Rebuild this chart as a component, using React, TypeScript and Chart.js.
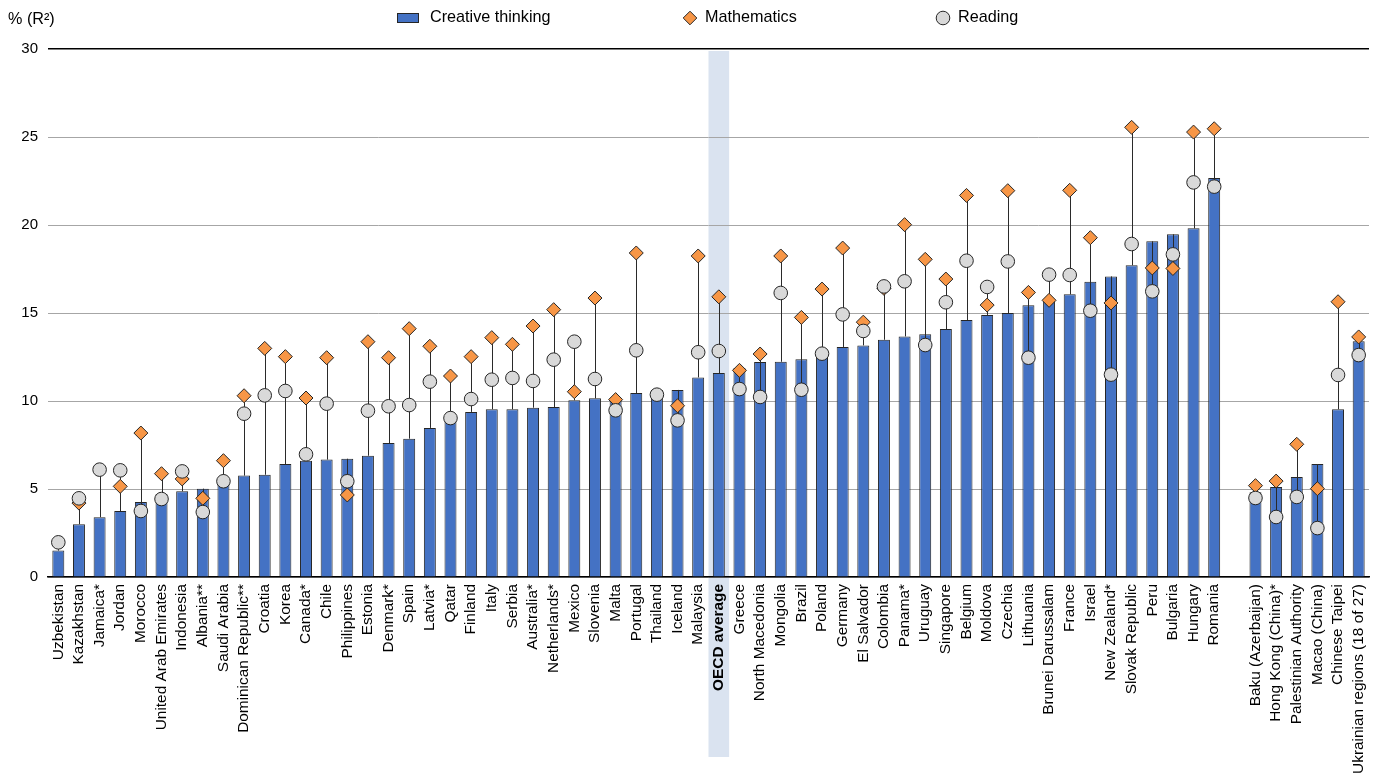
import React, { useEffect, useRef } from "react";
import { Chart, registerables } from "chart.js";

Chart.register(...registerables);

const categories: string[] = [
  "Uzbekistan", "Kazakhstan", "Jamaica*", "Jordan", "Morocco", "United Arab Emirates", "Indonesia", "Albania**",
  "Saudi Arabia", "Dominican Republic**", "Croatia", "Korea", "Canada*", "Chile", "Philippines", "Estonia",
  "Denmark*", "Spain", "Latvia*", "Qatar", "Finland", "Italy", "Serbia", "Australia*", "Netherlands*", "Mexico",
  "Slovenia", "Malta", "Portugal", "Thailand", "Iceland", "Malaysia", "OECD average", "Greece", "North Macedonia",
  "Mongolia", "Brazil", "Poland", "Germany", "El Salvador", "Colombia", "Panama*", "Uruguay", "Singapore",
  "Belgium", "Moldova", "Czechia", "Lithuania", "Brunei Darussalam", "France", "Israel", "New Zealand*",
  "Slovak Republic", "Peru", "Bulgaria", "Hungary", "Romania", "",
  "Baku (Azerbaijan)", "Hong Kong (China)*", "Palestinian Authority", "Macao (China)", "Chinese Taipei",
  "Ukrainian regions (18 of 27)",
];

const creative: (number | null)[] = [
  1.5, 3.0, 3.4, 3.75, 4.26, 4.72, 4.87, 5.02,
  5.35, 5.76, 5.81, 6.42, 6.61, 6.67, 6.72, 6.89,
  7.61, 7.86, 8.47, 8.94, 9.38, 9.53, 9.53, 9.62, 9.66, 10.04,
  10.15, 10.08, 10.45, 10.63, 10.63, 11.34, 11.59, 11.87, 12.22,
  12.23, 12.37, 12.64, 13.07, 13.16, 13.48, 13.67, 13.79, 14.09,
  14.6, 14.89, 15.0, 15.44, 15.68, 16.06, 16.78, 17.08,
  17.71, 19.07, 19.47, 19.81, 22.67, null,
  4.81, 5.11, 5.68, 6.42, 9.53,
  13.39,
];

const mathematics: (number | null)[] = [
  null, 4.2, null, 5.15, 8.18, 5.87, 5.57, 4.47,
  6.61, 10.3, 12.99, 12.52, 10.17, 12.46, 4.66, 13.37,
  12.46, 14.11, 13.11, 11.42, 12.52, 13.6, 13.22, 14.26, 15.19, 10.53,
  15.85, 10.08, 18.41, null, 9.73, 18.24, 15.92, 11.74, 12.67,
  18.24, 14.75, 16.36, 18.69, 14.48, 16.4, 20.02, 18.05, 16.93,
  21.68, 15.45, 21.95, 16.17, 15.72, 21.97, 19.28, 15.57,
  25.55, 17.56, 17.53, 25.28, 25.47, null,
  5.19, 5.45, 7.54, 5.02, 15.64,
  13.64,
];

const reading: (number | null)[] = [
  1.97, 4.47, 6.1, 6.06, 3.75, 4.43, 6.0, 3.69,
  5.44, 9.28, 10.32, 10.57, 6.97, 9.85, 5.44, 9.45,
  9.7, 9.77, 11.1, 9.03, 10.11, 11.21, 11.31, 11.14, 12.35, 13.37,
  11.25, 9.47, 12.88, 10.36, 8.9, 12.77, 12.84, 10.68, 10.23,
  16.14, 10.64, 12.69, 14.92, 13.98, 16.51, 16.8, 13.18, 15.61,
  17.97, 16.48, 17.93, 12.46, 17.18, 17.16, 15.13, 11.5,
  18.92, 16.23, 18.33, 22.42, 22.18, null,
  4.49, 3.41, 4.55, 2.78, 11.48,
  12.61,
];

const yTicks: number[] = [0, 5, 10, 15, 20, 25, 30];
const legendLabels: string[] = ["Creative thinking", "Mathematics", "Reading"];
const axisTitle = "% (R²)";
const highlightLabel = "OECD average";

const FONT = "'Liberation Sans', Arial, sans-serif";
const LABEL_SIZE = 15.4;
const TICK_SIZE = 15;
const LEGEND_SIZE = 16.2;
const BAR_COLOR = "#4472C4";
const MATH_COLOR = "#F79646";
const READ_COLOR = "#D9D9D9";
const EDGE = "#262626";

export default function App() {
  const canvasRef = useRef<HTMLCanvasElement | null>(null);

  useEffect(() => {
    document.body.style.margin = "0";
    const canvas = canvasRef.current;
    if (!canvas) return;

    const highlightIdx = categories.indexOf(highlightLabel);

    const bandPlugin = {
      id: "band",
      beforeDraw(chart: any) {
        const { ctx, scales, chartArea } = chart;
        const x = scales.x;
        const w = x.getPixelForValue(1) - x.getPixelForValue(0);
        const cx = x.getPixelForValue(highlightIdx);
        ctx.save();
        ctx.fillStyle = "#DAE3F0";
        ctx.fillRect(cx - w / 2, chartArea.top + 2, w, chart.height - 21 - chartArea.top - 2);
        ctx.restore();
      },
    };

    const rangePlugin = {
      id: "ranges",
      afterDatasetDraw(chart: any, args: any) {
        if (args.index !== 0) return;
        const { ctx, scales } = chart;
        const { x, y } = scales;
        ctx.save();
        ctx.strokeStyle = "#2a2a2a";
        ctx.lineWidth = 1;
        categories.forEach((_, i) => {
          const vals = [creative[i], mathematics[i], reading[i]].filter((v) => v != null) as number[];
          if (vals.length < 2) return;
          const lo = Math.min(...vals);
          const hi = Math.max(...vals);
          const px = Math.round(x.getPixelForValue(i)) + 0.5;
          ctx.beginPath();
          ctx.moveTo(px, y.getPixelForValue(lo));
          ctx.lineTo(px, y.getPixelForValue(hi));
          ctx.stroke();
        });
        ctx.restore();
      },
    };

    const legendPlugin = {
      id: "customLegend",
      afterDraw(chart: any) {
        const { ctx } = chart;
        ctx.save();
        ctx.font = `${LEGEND_SIZE}px ${FONT}`;
        ctx.fillStyle = "#000";
        ctx.textBaseline = "middle";
        ctx.textAlign = "left";
        ctx.fillText(axisTitle, 8, 20);
        const ly = 18;
        ctx.fillStyle = BAR_COLOR;
        ctx.fillRect(397, 13, 22, 10);
        ctx.strokeStyle = EDGE;
        ctx.lineWidth = 1;
        ctx.strokeRect(397.5, 13.5, 21, 9);
        ctx.fillStyle = "#000";
        ctx.fillText(legendLabels[0], 430, ly);
        const dx = 690, r = 6.8;
        ctx.beginPath();
        ctx.moveTo(dx - r, ly);
        ctx.lineTo(dx, ly - r);
        ctx.lineTo(dx + r, ly);
        ctx.lineTo(dx, ly + r);
        ctx.closePath();
        ctx.fillStyle = MATH_COLOR;
        ctx.fill();
        ctx.stroke();
        ctx.fillStyle = "#000";
        ctx.fillText(legendLabels[1], 705, ly);
        ctx.beginPath();
        ctx.arc(943, ly, 6.8, 0, Math.PI * 2);
        ctx.fillStyle = READ_COLOR;
        ctx.fill();
        ctx.stroke();
        ctx.fillStyle = "#000";
        ctx.fillText(legendLabels[2], 958, ly);
        ctx.restore();
      },
    };

    const chart = new Chart(canvas, {
      type: "bar",
      data: {
        labels: categories,
        datasets: [
          {
            type: "bar",
            label: legendLabels[0],
            data: creative,
            backgroundColor: BAR_COLOR,
            borderColor: EDGE,
            borderWidth: 1,
            barPercentage: 0.58,
            categoryPercentage: 1,
            order: 3,
          } as any,
          {
            type: "line",
            label: legendLabels[1],
            data: mathematics,
            showLine: false,
            pointStyle: "rectRot",
            pointRadius: 7,
            pointBackgroundColor: MATH_COLOR,
            pointBorderColor: EDGE,
            pointBorderWidth: 1,
            order: 2,
          } as any,
          {
            type: "line",
            label: legendLabels[2],
            data: reading,
            showLine: false,
            pointStyle: "circle",
            pointRadius: 6.8,
            pointBackgroundColor: READ_COLOR,
            pointBorderColor: EDGE,
            pointBorderWidth: 1,
            order: 1,
          } as any,
        ],
      },
      options: {
        responsive: false,
        animation: false,
        events: [],
        layout: { padding: { top: 49, right: 8, bottom: 0, left: 0 } },
        plugins: {
          legend: { display: false },
          tooltip: { enabled: false },
        },
        scales: {
          x: {
            type: "category",
            offset: true,
            grid: { display: false, drawTicks: false },
            border: { display: true, color: "#000", width: 1.5 },
            ticks: {
              autoSkip: false,
              maxRotation: 90,
              minRotation: 90,
              padding: 7,
              color: "#000",
              font: (ctx: any) => ({
                family: FONT,
                size: LABEL_SIZE,
                weight: ctx.index === highlightIdx ? "bold" : "normal",
              }),
            },
            afterFit: (scale: any) => {
              scale.height = 201;
              scale.paddingLeft = 0;
              scale.paddingRight = 0;
            },
          },
          y: {
            min: yTicks[0],
            max: yTicks[yTicks.length - 1],
            afterBuildTicks: (scale: any) => {
              scale.ticks = yTicks.map((v) => ({ value: v }));
            },
            grid: {
              drawTicks: false,
              color: (ctx: any) => (ctx.tick && ctx.tick.value === 30 ? "#000" : "#A6A6A6"),
              lineWidth: (ctx: any) => (ctx.tick && ctx.tick.value === 30 ? 1.5 : 1),
            },
            border: { display: false },
            ticks: {
              padding: 10,
              color: "#000",
              font: { family: FONT, size: TICK_SIZE },
            },
            afterFit: (scale: any) => {
              scale.width = 48;
              scale.paddingTop = 0;
              scale.paddingBottom = 0;
            },
          },
        },
      },
      plugins: [bandPlugin, rangePlugin, legendPlugin],
    });

    return () => chart.destroy();
  }, []);

  return (
    <div style={{ width: 1377, height: 778 }}>
      <canvas ref={canvasRef} width={1377} height={778} style={{ display: "block" }} />
    </div>
  );
}
